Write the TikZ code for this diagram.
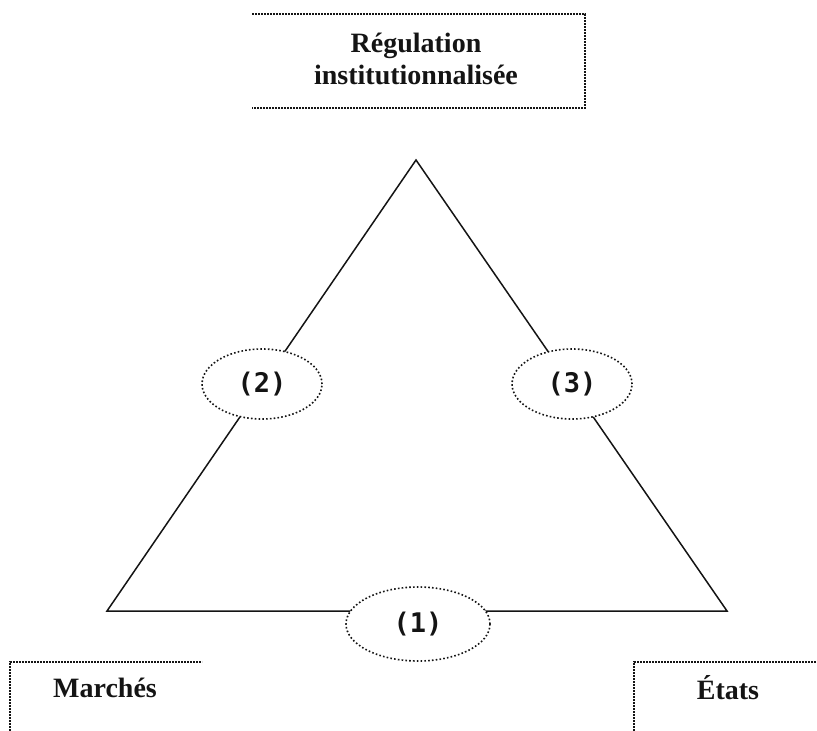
\documentclass[tikz,border=0pt]{standalone}
\usepackage{fontspec}
\setmainfont{Liberation Serif}
\setmonofont{DejaVu Sans Mono}
\usepackage{tikz}
\usetikzlibrary{shapes.geometric, backgrounds}
\definecolor{ink}{RGB}{20,20,20}

\tikzset{
  pole/.style={font=\fontsize{14}{16}\selectfont\bfseries, text=ink, align=center, inner sep=0pt},
  edgebox/.style={draw=ink, line width=0.9pt, dash pattern=on 0.9pt off 0.6pt},
  link/.style={ellipse, draw=ink, fill=white, line width=0.8pt, dash pattern=on 0.8pt off 1.1pt,
    inner sep=0pt, font=\fontsize{13.5}{15}\selectfont\ttfamily\bfseries, text=ink},
  side/.style={draw=ink, line width=0.75pt}
}

\begin{document}
\begin{tikzpicture}[x=0.5pt, y=-0.5pt]
\useasboundingbox (0,0) rectangle (817,731);

% geometry in pixels of the 817x731 sheet (y grows downwards)
\coordinate (apex) at (416,160);
\coordinate (bl)   at (107,611);
\coordinate (br)   at (727,611);

%% ── the triangle, kept under the ellipses ─────────────────────────
\begin{scope}[on background layer]
  \draw[side] (apex) -- (bl) -- (br) -- cycle;
\end{scope}

%% ── links on the sides ───────────────────────────────────────────
\node[link, minimum width=60pt, minimum height=35pt] (e2) at (262,384) {(2)};
\node[link, minimum width=60pt, minimum height=35pt] (e3) at (572,384) {(3)};
\node[link, minimum width=72pt, minimum height=37pt] (e1) at (418,624) {(1)};

%% ── poles ────────────────────────────────────────────────────────
\node[pole] (reg) at (416,59) {Régulation\\institutionnalisée};
\draw[edgebox] (252,14) -- (585,14) -- (585,108) -- (252,108);

\node[pole] (mar) at (105,688) {Marchés};
\draw[edgebox] (10,731) -- (10,662) -- (202,662);

\node[pole] (eta) at (728,688) {États};
\draw[edgebox] (634,731) -- (634,662) -- (817,662);

\end{tikzpicture}
\end{document}
